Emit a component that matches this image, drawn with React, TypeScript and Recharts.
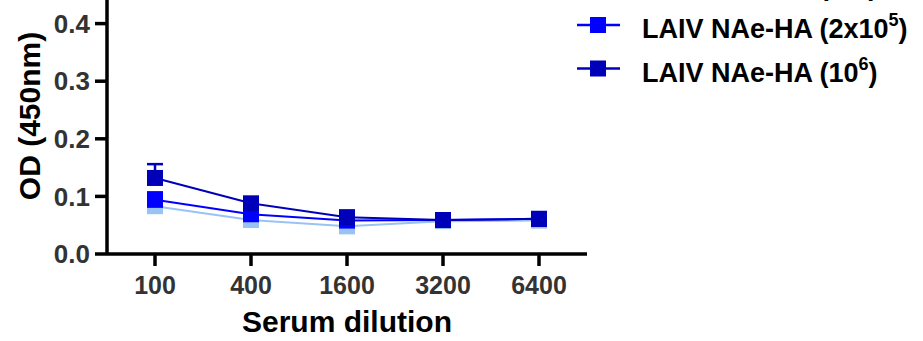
import React from 'react';
import { LineChart, Line, XAxis, YAxis, ErrorBar } from 'recharts';

const dilutions = ['100', '400', '1600', '3200', '6400'];
const yTicks = [0, 0.1, 0.2, 0.3, 0.4, 0.5];

const dose1e5 = [0.083, 0.059, 0.048, 0.057, 0.058];
const dose2e5 = [0.094, 0.069, 0.058, 0.059, 0.061];
const dose1e6 = [0.132, 0.088, 0.064, 0.059, 0.061];
const sd2e5 = [0.013, 0.004, 0.003, 0.002, 0.002];
const sd1e6 = [0.024, 0.006, 0.003, 0.002, 0.002];

const seriesNames = [
    { key: 'a', base: 'LAIV NAe-HA (10', exp: '5', color: '#99c2f5' },
    { key: 'b', base: 'LAIV NAe-HA (2x10', exp: '5', color: '#0000ff' },
    { key: 'c', base: 'LAIV NAe-HA (10', exp: '6', color: '#0000b8' },
];

const data = dilutions.map((d, i) => ({
    dilution: d,
    a: dose1e5[i],
    b: dose2e5[i],
    c: dose1e6[i],
    bErr: [0, sd2e5[i]],
    cErr: [0, sd1e6[i]],
}));

const SquareDot = (props: any) => {
    const { cx, cy, fill } = props;
    if (cx == null || cy == null) return null;
    return <rect x={cx - 8} y={cy - 8} width={16} height={16} fill={fill} />;
};

const font = 'Arial, "Liberation Sans", Helvetica, sans-serif';
const axisLine = { stroke: '#000', strokeWidth: 3.5 };

export default function App() {
    return (
        <div style={{ position: 'absolute', left: 0, top: -60, width: 923, height: 401 }}>
            <LineChart width={923} height={401} data={data} margin={{ top: 26, right: 336, bottom: 0, left: 0 }}>
                <XAxis
                    dataKey="dilution"
                    padding={{ left: 48, right: 48 }}
                    height={87}
                    axisLine={axisLine}
                    tickLine={axisLine}
                    tickSize={12}
                    tickMargin={10}
                    tick={{ fill: '#333', fontSize: 25, fontWeight: 'bold', fontFamily: font }}
                    label={{
                        value: 'Serum dilution',
                        position: 'insideBottom',
                        offset: 9,
                        fill: '#000',
                        fontSize: 30,
                        fontWeight: 'bold',
                        fontFamily: font,
                    }}
                />
                <YAxis
                    domain={[0, 0.5]}
                    ticks={yTicks}
                    width={107}
                    axisLine={axisLine}
                    tickLine={axisLine}
                    tickSize={12}
                    tickMargin={5}
                    tickFormatter={(v: number) => v.toFixed(1)}
                    tick={{ fill: '#333', fontSize: 26, fontWeight: 'bold', fontFamily: font }}
                    label={{
                        value: 'OD (450nm)',
                        angle: -90,
                        position: 'center',
                        dx: -24,
                        dy: 6,
                        fill: '#000',
                        fontSize: 30,
                        fontWeight: 'bold',
                        fontFamily: font,
                    }}
                />
                <Line dataKey="a" stroke="#99c2f5" strokeWidth={2} fill="#99c2f5" dot={<SquareDot />} isAnimationActive={false} />
                <Line dataKey="b" stroke="#0000ff" strokeWidth={2} fill="#0000ff" dot={<SquareDot />} isAnimationActive={false}>
                    <ErrorBar dataKey="bErr" width={8} stroke="#0000ff" strokeWidth={2.5} direction="y" />
                </Line>
                <Line dataKey="c" stroke="#0000b8" strokeWidth={2} fill="#0000b8" dot={<SquareDot />} isAnimationActive={false}>
                    <ErrorBar dataKey="cErr" width={8} stroke="#0000b8" strokeWidth={2.5} direction="y" />
                </Line>
            </LineChart>
            <svg width={923} height={401} style={{ position: 'absolute', left: 0, top: 0, pointerEvents: 'none' }}>
                {seriesNames.map((s, i) => {
                    const y = 41.5 + i * 43.5;
                    return (
                        <g key={s.key}>
                            <line x1={577} x2={620} y1={y} y2={y} stroke={s.color} strokeWidth={2.5} />
                            <rect x={590} y={y - 8} width={16} height={16} fill={s.color} />
                            <text x={642} y={y + 13} fontFamily={font} fontWeight="bold" fontSize={27} fill="#000">
                                {s.base}
                                <tspan fontSize={18} dy={-12}>{s.exp}</tspan>
                                <tspan dy={12}>)</tspan>
                            </text>
                        </g>
                    );
                })}
            </svg>
        </div>
    );
}
